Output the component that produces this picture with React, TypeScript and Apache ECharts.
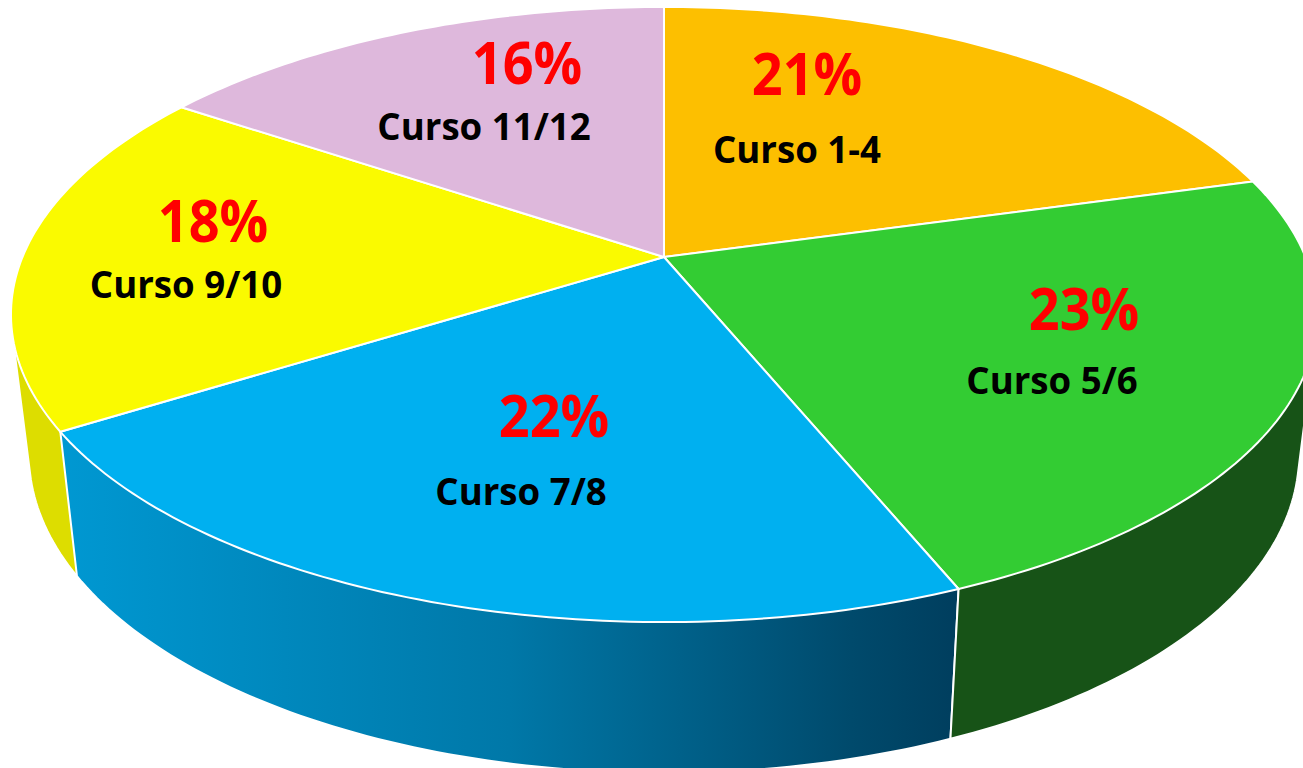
import React, { useEffect, useRef } from "react";
import * as echarts from "echarts";

// Data
const categories = ["Curso 1-4", "Curso 5/6", "Curso 7/8", "Curso 9/10", "Curso 11/12"];
const shares = [20.7, 23.1, 22.3, 18.3, 15.6];
const percentLabels = ["21%", "23%", "22%", "18%", "16%"];

// Styling
const topColors = ["#FDBF00", "#33CC33", "#00B0F0", "#FAFA00", "#DEB8DC"];
const sideColors: any[] = [
  "#B08500",
  "#175317",
  new echarts.graphic.LinearGradient(0, 0, 1, 0, [
    { offset: 0, color: "#0098D2" },
    { offset: 0.5, color: "#0078A8" },
    { offset: 0.88, color: "#004A6C" },
    { offset: 1, color: "#003E5E" },
  ]),
  "#DDDD00",
  "#9A7F99",
];

// Perspective projection of the disc
const K = 0.187;
const TOP = { cx: 664, cy: 257, rx: 641.5, ry: 296.8 };
const BASE = { cx: 664, cy: 395.5, rx: 623.8, ry: 306.9 };

// Label placement (centre of each text)
const percentAnchors = [[807, 72], [1084, 307], [554, 414], [213, 219], [527, 61]];
const nameAnchors = [[797, 149], [1052, 380], [521, 491], [186, 284], [484, 126]];
const PCT_FONT = 'bold 60px "Open Sans"';
const NAME_FONT = 'bold 37px "Open Sans"';
const PCT_SCALE = 0.9;
const NAME_SCALE = 0.99;

const total = shares.reduce((a, b) => a + b, 0);
const startFraction = (i: number) => shares.slice(0, i).reduce((a, b) => a + b, 0) / total;

function project(p: typeof TOP, theta: number): number[] {
  const u = Math.sin(theta);
  const v = Math.cos(theta);
  const d = 1 + K * v;
  return [p.cx + (p.rx * u) / d, p.cy - (p.ry * v) / d];
}

function arc(p: typeof TOP, i: number): number[][] {
  const a0 = startFraction(i) * 2 * Math.PI;
  const a1 = startFraction(i + 1) * 2 * Math.PI;
  const n = Math.max(2, Math.ceil(((a1 - a0) * 180) / Math.PI));
  const pts: number[][] = [];
  for (let k = 0; k <= n; k++) pts.push(project(p, a0 + ((a1 - a0) * k) / n));
  return pts;
}

function convexHull(points: number[][]): number[][] {
  const pts = [...points].sort((a, b) => a[0] - b[0] || a[1] - b[1]);
  const cross = (o: number[], a: number[], b: number[]) =>
    (a[0] - o[0]) * (b[1] - o[1]) - (a[1] - o[1]) * (b[0] - o[0]);
  const half = (list: number[][]) => {
    const h: number[][] = [];
    for (const q of list) {
      while (h.length >= 2 && cross(h[h.length - 2], h[h.length - 1], q) <= 0) h.pop();
      h.push(q);
    }
    h.pop();
    return h;
  };
  return [...half(pts), ...half(pts.slice().reverse())];
}

const WHITE_LINE = { stroke: "#FFFFFF", lineWidth: 2, lineJoin: "round" };

export default function App() {
  const ref = useRef<HTMLDivElement>(null);
  useEffect(() => {
    document.body.style.margin = "0";
    const chart = echarts.init(ref.current!, null, { renderer: "svg" });
    const indices = categories.map((_, i) => i);
    chart.setOption({
      animation: false,
      backgroundColor: "#FFFFFF",
      series: [
        {
          type: "custom",
          coordinateSystem: "none",
          silent: true,
          z: 1,
          data: indices.slice().reverse().map((i) => ({ name: categories[i], value: [i, shares[i]] })),
          renderItem: (_p: any, api: any) => {
            const i = api.value(0);
            const points = convexHull([...arc(TOP, i), ...arc(BASE, i)]);
            return {
              type: "polygon",
              shape: { points },
              style: { fill: sideColors[i], ...WHITE_LINE },
            };
          },
        },
        {
          type: "custom",
          coordinateSystem: "none",
          silent: true,
          z: 2,
          data: indices.map((i) => ({ name: categories[i], value: [i, shares[i]] })),
          renderItem: (_p: any, api: any) => {
            const i = api.value(0);
            const points = [[TOP.cx, TOP.cy], ...arc(TOP, i)];
            return {
              type: "polygon",
              shape: { points },
              style: { fill: topColors[i], ...WHITE_LINE },
            };
          },
        },
        {
          type: "custom",
          coordinateSystem: "none",
          silent: true,
          z: 3,
          data: indices.map((i) => ({ name: categories[i], value: [i, shares[i]] })),
          renderItem: (_p: any, api: any) => {
            const i = api.value(0);
            return {
              type: "group",
              children: [
                {
                  type: "text",
                  x: percentAnchors[i][0],
                  y: percentAnchors[i][1],
                  scaleX: PCT_SCALE,
                  style: {
                    text: percentLabels[i],
                    fill: "#FF0000",
                    font: PCT_FONT,
                    textAlign: "center",
                    textVerticalAlign: "middle",
                  },
                },
                {
                  type: "text",
                  x: nameAnchors[i][0],
                  y: nameAnchors[i][1],
                  scaleX: NAME_SCALE,
                  style: {
                    text: categories[i],
                    fill: "#000000",
                    font: NAME_FONT,
                    textAlign: "center",
                    textVerticalAlign: "middle",
                  },
                },
              ],
            };
          },
        },
      ],
    });
    return () => chart.dispose();
  }, []);
  return (
    <div
      ref={ref}
      style={{ position: "fixed", left: 0, top: 0, width: 1303, height: 768, overflow: "hidden" }}
    />
  );
}
